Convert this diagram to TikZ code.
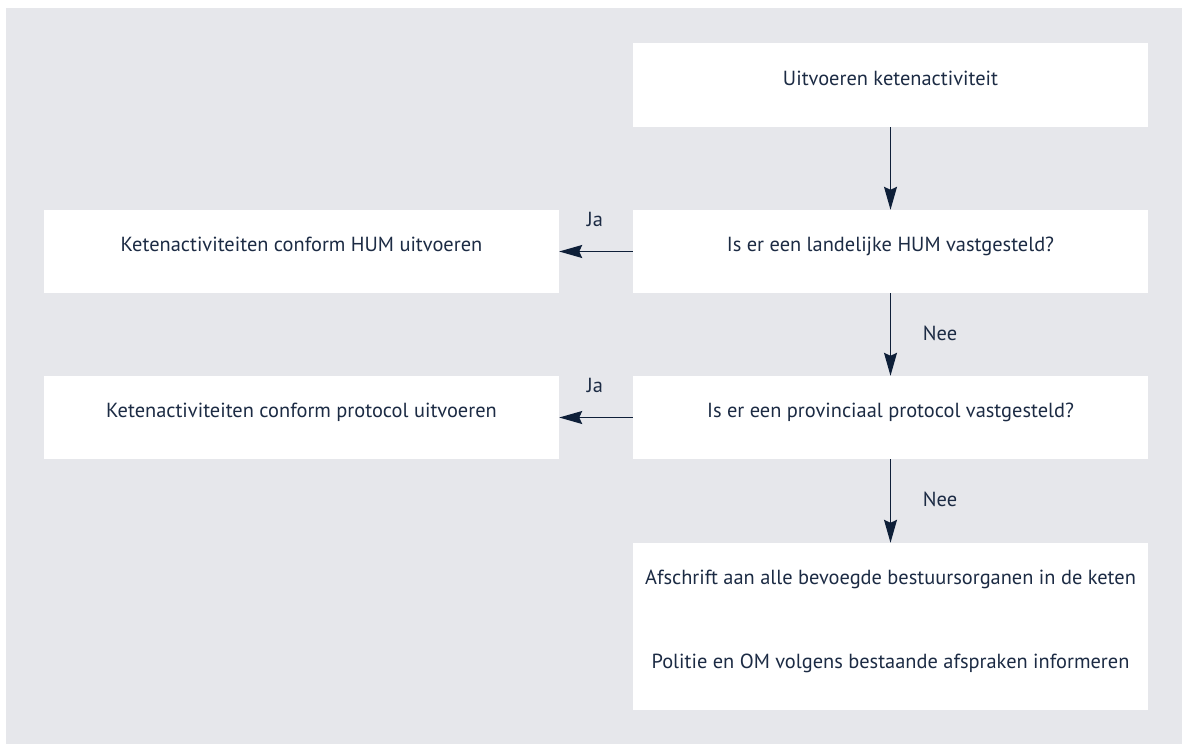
\documentclass[tikz,border=0pt]{standalone}
\usepackage{fontspec}
\setmainfont{PT Sans}
\usetikzlibrary{arrows.meta}
\definecolor{panel}{HTML}{E6E7EB}
\definecolor{ink}{HTML}{1C2B44}
\definecolor{arr}{HTML}{0E1F38}
\tikzset{
  x=1pt, y=-1pt,
  flowbox/.style={fill=white, draw=none, minimum width=515pt, minimum height=84pt,
    inner sep=0pt, text=ink, font=\fontsize{20.4}{24}\selectfont, text height=0pt, text depth=0pt},
  halfbox/.style={flowbox, minimum height=83.5pt},
  lbl/.style={text=ink, font=\fontsize{20.4}{24}\selectfont, inner sep=0pt, anchor=base},
  flow/.style={draw=arr, line width=1.3pt, -{Stealth[length=23pt, width=13pt, inset=3pt]}},
}
\begin{document}
\begin{tikzpicture}
\useasboundingbox (0,0) rectangle (1182,744);
\fill[panel] (6,8) rectangle (1182,744);
\node[flowbox] (start) at (890.5,85) {Uitvoeren ketenactiviteit};
\node[flowbox, minimum height=83pt] (q1) at (890.5,251.5) {Is er een landelijke HUM vastgesteld?};
\node[flowbox, minimum height=83pt] (hum) at (301.5,251.5) {Ketenactiviteiten conform HUM uitvoeren};
\node[flowbox, minimum height=83pt] (q2) at (890.5,417.5) {Is er een provinciaal protocol vastgesteld?};
\node[flowbox, minimum height=83pt] (prot) at (301.5,417.5) {Ketenactiviteiten conform protocol uitvoeren};
\node[halfbox] (afs) at (890.5,584.75) {Afschrift aan alle bevoegde bestuursorganen in de keten};
\node[halfbox] (pol) at (890.5,668.25) {Politie en OM volgens bestaande afspraken informeren};
\draw[flow] (start.south) -- (q1.north);
\draw[flow] (q1.west) -- (hum.east);
\draw[flow] (q1.south) -- (q2.north);
\draw[flow] (q2.west) -- (prot.east);
\draw[flow] (q2.south) -- (afs.north);
\node[lbl] (ja1) at (595,226.5) {Ja};
\node[lbl] (ja2) at (595,392.5) {Ja};
\node[lbl] (nee1) at (940,340) {Nee};
\node[lbl] (nee2) at (940,506) {Nee};
\end{tikzpicture}
\end{document}
